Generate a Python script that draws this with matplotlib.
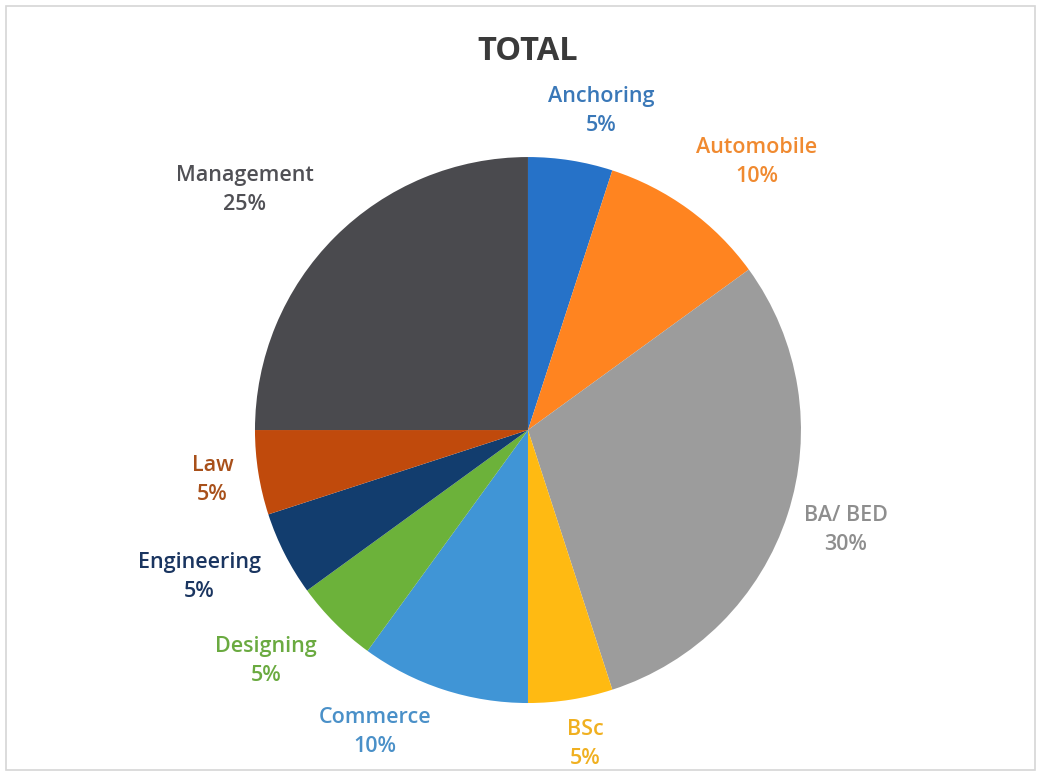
import numpy as np
import matplotlib.pyplot as plt
from matplotlib.patches import Rectangle

plt.rcParams['font.family'] = ['Open Sans', 'DejaVu Sans']

categories = ['Anchoring', 'Automobile', 'BA/ BED', 'BSc', 'Commerce',
              'Designing', 'Engineering', 'Law', 'Management']
shares = [5, 10, 30, 5, 10, 5, 5, 5, 25]
colors = ['#2672C8', '#FF8420', '#9C9C9C', '#FFBA12', '#4095D6',
          '#6CB23A', '#123D6E', '#C04A0C', '#4A4A4E']
text_colors = ['#3A78B8', '#F08A30', '#8E8E8E', '#F0B020', '#4A90C8',
               '#6AAA40', '#1A3560', '#A8501A', '#505055']
# how far from the centre each label sits (in radii), and angular nudge (deg, ccw)
label_dist = [1.2, 1.29, 1.22, 1.17, 1.24, 1.28, 1.32, 1.17, 1.36]
label_shift = [-4, -4.5, 0.5, 1.3, -8.8, -3.6, -2.9, 0, 4.7]

fig = plt.figure(figsize=(10.39, 7.74), dpi=100)
fig.patches.append(Rectangle((0.006, 0.005), 0.99, 0.987, transform=fig.transFigure,
                             fill=False, edgecolor='#d6d6d6', linewidth=1.2))

ax = fig.add_axes([0.2454, 0.0917, 0.5255, 0.7054])
wedges, _ = ax.pie(shares, colors=colors, startangle=90, counterclock=False,
                   radius=1.0, wedgeprops=dict(linewidth=0))
ax.set_xlim(-1, 1)
ax.set_ylim(-1, 1)
ax.set_aspect('equal')

for w, name, val, d, sh, tc in zip(wedges, categories, shares, label_dist, label_shift, text_colors):
    ang = np.deg2rad((w.theta1 + w.theta2) / 2 + sh)
    ax.text(d * np.cos(ang), d * np.sin(ang), f'{name}\n{val}%', ha='center', va='center',
            fontsize=15.5, fontweight='semibold', color=tc, linespacing=1.5,
            clip_on=False)

fig.text(0.508, 0.933, 'TOTAL', ha='center', va='center', fontsize=23.5,
         fontweight='bold', color='#3a3a3a')

fig.savefig('out.png', dpi=100)
